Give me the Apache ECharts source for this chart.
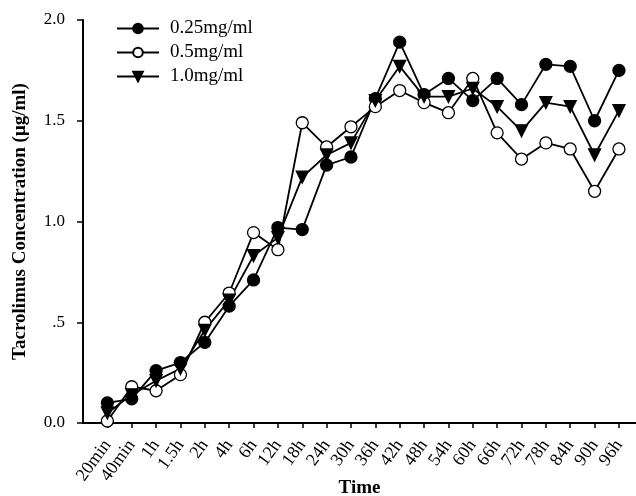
<!DOCTYPE html>
<html>
<head>
<meta charset="utf-8">
<script src="https://cdn.jsdelivr.net/npm/echarts@6/dist/echarts.min.js"></script>
<style>
html, body { margin: 0; padding: 0; background: #fff; }
#main { width: 636px; height: 496px; }
</style>
</head>
<body>
<div id="main"></div>
<script>
var times = ['20min','40min','1h','1.5h','2h','4h','6h','12h','18h','24h','30h','36h',
             '42h','48h','54h','60h','66h','72h','78h','84h','90h','96h'];
var conc025 = [0.10,0.12,0.26,0.30,0.40,0.58,0.71,0.97,0.96,1.28,1.32,1.61,
               1.89,1.63,1.71,1.60,1.71,1.58,1.78,1.77,1.50,1.75];
var conc05  = [0.01,0.18,0.16,0.24,0.50,0.645,0.945,0.86,1.49,1.37,1.47,1.57,
               1.65,1.59,1.54,1.71,1.44,1.31,1.39,1.36,1.15,1.36];
var conc10  = [0.05,0.14,0.21,0.27,0.46,0.61,0.83,0.92,1.22,1.33,1.39,1.60,
               1.77,1.62,1.62,1.66,1.57,1.45,1.59,1.57,1.33,1.55];
var yTickLabels = ['0.0','.5','1.0','1.5','2.0'];

var serif = '"Liberation Serif", "DejaVu Serif", serif';

function pairs(arr){
    var out = [];
    for (var i = 0; i < arr.length; i++) out.push([i, arr[i]]);
    return out;
}
var idx = times.map(function(t, i){ return i; });

var dom = document.getElementById('main');
var myChart = echarts.init(dom, null, {renderer: 'canvas'});

function mkSeries(name, data, symbol, fill, rot){
    return {
        name: name,
        type: 'line',
        data: pairs(data),
        symbol: symbol,
        symbolSize: 12,
        symbolRotate: rot || 0,
        showAllSymbol: true,
        lineStyle: {color: '#000', width: 1.8},
        itemStyle: {color: fill, borderColor: '#000', borderWidth: 1.3},
        emphasis: {disabled: true},
        animation: false
    };
}

var option = {
    animation: false,
    backgroundColor: '#fff',
    grid: {left: 83, top: 20, right: 0, bottom: 73, outerBoundsMode: 'none'},
    legend: {
        orient: 'vertical',
        left: 116,
        top: 19,
        padding: 0,
        itemWidth: 42,
        itemHeight: 12,
        itemGap: 5,
        textStyle: {fontFamily: serif, fontSize: 19, color: '#000', padding: [0, 0, 0, 6]},
        data: [
            {name: '0.25mg/ml'},
            {name: '0.5mg/ml'},
            {name: '1.0mg/ml'}
        ]
    },
    xAxis: {
        type: 'value',
        min: -1,
        max: 21.7,
        interval: 1,
        name: 'Time',
        nameLocation: 'middle',
        nameGap: 56,
        nameMoveOverlap: false,
        nameTextStyle: {fontFamily: serif, fontSize: 19, fontWeight: 'bold', color: '#000'},
        splitLine: {show: false},
        axisLine: {onZero: false, lineStyle: {color: '#000', width: 2}},
        axisTick: {show: true, length: 5, lineStyle: {color: '#000', width: 1.5}, customValues: idx},
        axisLabel: {
            customValues: idx,
            rotate: 54,
            margin: 19,
            fontFamily: serif,
            fontSize: 18,
            color: '#000',
            formatter: function(v){ return times[Math.round(v)] || ''; }
        }
    },
    yAxis: {
        type: 'value',
        min: 0,
        max: 2,
        interval: 0.5,
        name: 'Tacrolimus Concentration (μg/ml)',
        nameLocation: 'middle',
        nameGap: 53,
        nameMoveOverlap: false,
        nameTextStyle: {fontFamily: serif, fontSize: 19, fontWeight: 'bold', color: '#000'},
        splitLine: {show: false},
        axisLine: {show: true, onZero: false, lineStyle: {color: '#000', width: 2}},
        axisTick: {show: true, length: 6, lineStyle: {color: '#000', width: 1.5}},
        axisLabel: {
            margin: 18,
            fontFamily: serif,
            fontSize: 17,
            color: '#000',
            formatter: function(v){ return yTickLabels[Math.round(v / 0.5)]; }
        }
    },
    series: [
        mkSeries('0.25mg/ml', conc025, 'circle', '#000'),
        mkSeries('0.5mg/ml', conc05, 'circle', '#fff'),
        mkSeries('1.0mg/ml', conc10, 'triangle', '#000', 180)
    ]
};

if (option && typeof option == "object") {
    myChart.setOption(option, true);
}
</script>
</body>
</html>
